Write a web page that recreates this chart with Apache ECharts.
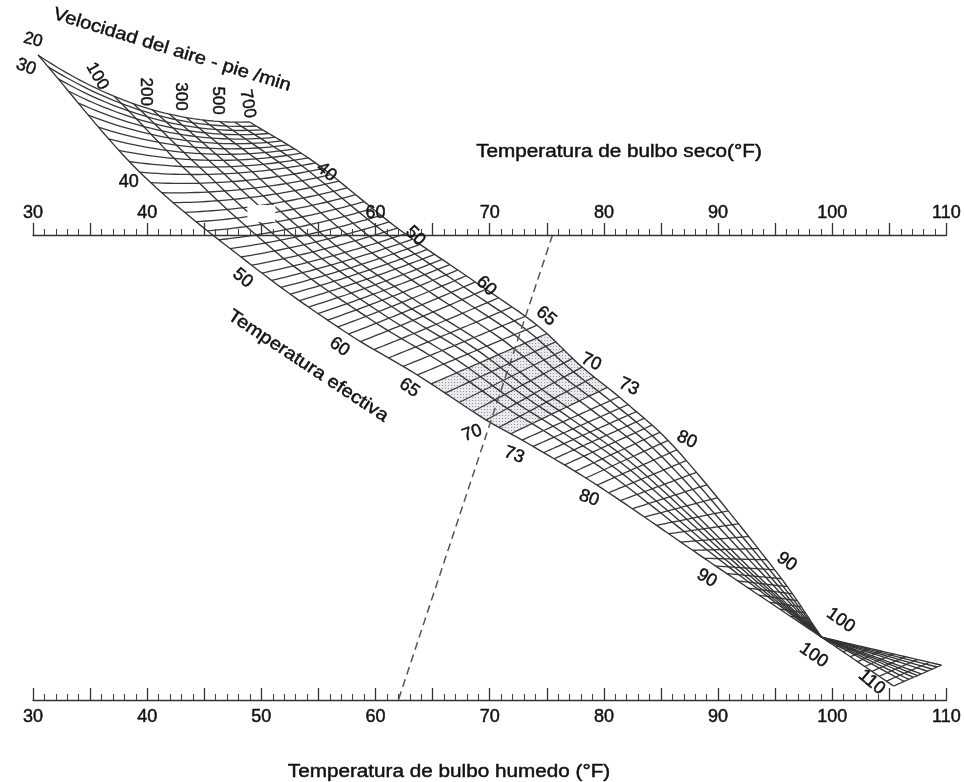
<!DOCTYPE html>
<html><head><meta charset="utf-8">
<script src="https://cdn.jsdelivr.net/npm/echarts@6/dist/echarts.min.js"></script>
<style>html,body{margin:0;padding:0;background:#fff}#c{width:964px;height:782px}</style>
</head><body><div id="c"></div>
<script>
// ================= DATA =================
// scale labels (°F)
const dryBulbTicks = [30, 40, 50, 60, 70, 80, 90, 100, 110];
const wetBulbTicks = [30, 40, 50, 60, 70, 80, 90, 100, 110];
// air velocity curves (ft/min) and the ones that carry a label
const velocities = [20, 100, 150, 200, 250, 300, 400, 500, 600, 700];
const velocityLabels = [20, 100, 200, 300, 500, 700];
// effective temperature key values (read at the band edges)
const etKeys = [30, 40, 50, 60, 65, 70, 73, 80, 90, 100, 110];
const etLabelsFast = [40, 50, 60, 65, 70, 73, 80, 90, 100];
const etLabelsStill = [30, 40, 50, 60, 65, 70, 73, 80, 90, 100, 110];
// example reading (dashed line) : dry bulb -> wet bulb
const readingDryBulb = 75.5;
const readingWetBulb = 62;
// comfort zone (stippled), effective temperature range
const comfortEt = [66, 72];

// ================= NOMOGRAM GEOMETRY =================
// Edge points of each ET key line, x in dry-bulb-scale °F, y in % of the gap
// between the wet-bulb scale (0) and the dry-bulb scale (100).
const stillX = [30.44, 39.36, 49.15, 57.63, 63.66, 69.69, 72.84, 79.40, 89.80, 99.07, 105.37];
const stillY = [138.7, 113.5, 93.5, 78.7, 69.9, 60.2, 55.9, 46.2, 28.8, 13.5, 3.0];
const fastX  = [48.97, 54.74, 61.91, 68.73, 74.15, 78.09, 81.32, 86.39, 94.96, 99.07, 109.56];
const fastY  = [124.3, 115.5, 101.5, 89.9, 80.6, 71.6, 65.2, 53.8, 28.0, 13.5, 7.5];
const etSag  = [4.0, 1.3, 0.5, 0.2, 0, 0, 0, 0, 0, 0, 0];
// position of each velocity curve across the band (0 = 20 fpm edge, 1 = 700 fpm edge)
const fracLow  = [0, .36, .45, .54, .62, .70, .78, .86, .93, 1];
const fracHigh = [0, .22, .32, .42, .50, .58, .71, .81, .91, 1];

function spline(keys, vals, e) {
  const n = keys.length;
  if (e <= keys[0]) return vals[0];
  if (e >= keys[n - 1]) return vals[n - 1];
  let k = 0; while (e > keys[k + 1]) k++;
  const tan = i => {
    if (i === 0) return (vals[1] - vals[0]) / (keys[1] - keys[0]);
    if (i === n - 1) return (vals[n - 1] - vals[n - 2]) / (keys[n - 1] - keys[n - 2]);
    return (vals[i + 1] - vals[i - 1]) / (keys[i + 1] - keys[i - 1]);
  };
  const h = keys[k + 1] - keys[k], u = (e - keys[k]) / h;
  const u2 = u * u, u3 = u2 * u;
  return (2*u3 - 3*u2 + 1) * vals[k] + (u3 - 2*u2 + u) * h * tan(k) + (-2*u3 + 3*u2) * vals[k + 1] + (u3 - u2) * h * tan(k + 1);
}
function edge(xs, ys, e) {
  if (e <= 100) {
    const kk = etKeys.slice(0, 10);
    return [spline(kk, xs.slice(0, 10), e), spline(kk, ys.slice(0, 10), e)];
  }
  const u = (e - 100) / 10;
  return [xs[9] + (xs[10] - xs[9]) * u, ys[9] + (ys[10] - ys[9]) * u];
}
function sagAt(e) {
  let k = 0; while (k < etKeys.length - 2 && e > etKeys[k + 1]) k++;
  const u = Math.min(1, Math.max(0, (e - etKeys[k]) / (etKeys[k + 1] - etKeys[k])));
  return etSag[k] + (etSag[k + 1] - etSag[k]) * u;
}
function fracAt(e, vi) {
  const w = Math.min(1, Math.max(0, (e - 30) / 20));
  return fracLow[vi] * (1 - w) + fracHigh[vi] * w;
}
function bez(e, t) {
  const A = edge(stillX, stillY, e), B = edge(fastX, fastY, e), s = sagAt(e);
  const C = [(A[0] + B[0]) / 2, (A[1] + B[1]) / 2 - 2 * s];
  const a = (1 - t) * (1 - t), b = 2 * t * (1 - t), c = t * t;
  return [a * A[0] + b * C[0] + c * B[0], a * A[1] + b * C[1] + c * B[1]];
}
function node(e, vi) { return bez(e, fracAt(e, vi)); }

// ET lines (every degree)
const etLines = [];
for (let e = 30; e <= 110; e++) {
  if (e === 100) continue;
  const c = [];
  for (let i = 0; i <= 30; i++) c.push(bez(e, i / 30));
  etLines.push({ coords: c });
}
// velocity curves
const velLines = velocities.map((v, vi) => {
  const c = [];
  for (let e = 30; e <= 110.001; e += 0.5) c.push(node(e, vi));
  return { coords: c };
});
// comfort zone polygon
const zonePoly = [];
for (let e = comfortEt[0]; e <= comfortEt[1] + 1e-6; e += 0.5) zonePoly.push(node(e, 0));
for (let i = 0; i <= 20; i++) zonePoly.push(bez(comfortEt[1], i / 20));
for (let e = comfortEt[1]; e >= comfortEt[0] - 1e-6; e -= 0.5) zonePoly.push(node(e, velocities.length - 1));
for (let i = 20; i >= 0; i--) zonePoly.push(bez(comfortEt[0], i / 20));

// ================= LABEL LAYOUT (screen px offset, rotation deg) =================
const fastLayout = {40:[11,9,-40],50:[18,8,-45],60:[11,4,-45],65:[9,-9,-40],70:[9,-5,-25],73:[10,-10,-25],80:[10,-10,-25],90:[12,-8,-35],100:[19,-17,-35]};
const stillLayout = {30:[-12,12,-20],40:[-11,10,0],50:[-9,13,-40],60:[-9,13,-35],65:[-8,13,-35],70:[-14,13,20],73:[-8,15,-20],80:[-8,13,-20],90:[-9,12,-30],100:[-8,18,-35],110:[-22,-4,-40]};
const velLayout = {20:[-5,-15,-15],100:[-17,-20,-60],200:[-7,-18,-90],300:[-5,-21,-90],500:[-2,-21,-90],700:[-2,-18,-80]};

const FONT = '"Liberation Sans", Arial, sans-serif';
const TXT = '#111';
const BOLDEN = { textBorderColor: '#111', textBorderWidth: 0.45 };
function lab(pos, text, lay, size) {
  // label offsets are applied in the rotated frame: pre-rotate so the screen offset is as given
  const phi = -lay[2] * Math.PI / 180; // clockwise screen angle
  const dx = lay[0], dy = lay[1];
  const ox = dx * Math.cos(phi) + dy * Math.sin(phi);
  const oy = -dx * Math.sin(phi) + dy * Math.cos(phi);
  return { value: pos, label: Object.assign({ show: true, formatter: String(text), offset: [ox, oy], rotate: lay[2],
    fontSize: size, color: TXT, fontFamily: FONT, position: 'inside', opacity: 1 }, BOLDEN) };
}
const labelData = [];
etLabelsFast.forEach(e => labelData.push(lab(node(e, velocities.length - 1), e, fastLayout[e], 18)));
etLabelsStill.forEach(e => labelData.push(lab(node(e, 0), e, stillLayout[e], 18)));
velocityLabels.forEach(v => labelData.push(lab(node(30, velocities.indexOf(v)), v, velLayout[v], 17)));

// stipple pattern
const pc = document.createElement('canvas'); pc.width = 3; pc.height = 3;
const g = pc.getContext('2d');
g.fillStyle = 'rgba(205,208,214,0.45)'; g.fillRect(0, 0, 3, 3);
g.fillStyle = 'rgba(120,120,128,0.75)'; g.fillRect(1, 1, 1, 1);

const chart = echarts.init(document.getElementById('c'), null, { renderer: 'canvas' });
const axisCommon = {
  type: 'value', min: 30, max: 110, interval: 5, gridIndex: 0,
  axisLine: { show: true, onZero: false, lineStyle: { color: '#333', width: 1.4 } },
  minorTick: { show: true, splitNumber: 5, length: 6, lineStyle: { color: '#444', width: 1.1 } },
  splitLine: { show: false }, minorSplitLine: { show: false }
};
function gtext(x, y, rotDeg, sx, text) {
  return { type: 'text', x: x, y: y, scaleX: sx, rotation: rotDeg * Math.PI / 180, z: 10,
    style: { text: text, font: '18px ' + FONT, fill: TXT, stroke: '#111', lineWidth: 0.45,
      textAlign: 'center', textVerticalAlign: 'middle', align: 'center', verticalAlign: 'middle' } };
}
chart.setOption({
  animation: false,
  backgroundColor: '#fff',
  grid: { left: 33, right: 16, top: 235, bottom: 82 },
  xAxis: [
    Object.assign({}, axisCommon, {
      position: 'top', z: 5,
      axisTick: { show: true, length: 12, inside: false, lineStyle: { color: '#333', width: 1.3 } },
      axisLabel: Object.assign({ margin: 13, fontSize: 18, color: TXT, fontFamily: FONT,
        formatter: v => (v % 10 ? '' : (v === 50 ? '{w| }' : (dryBulbTicks.includes(v) ? String(v) : ''))),
        rich: { w: { backgroundColor: '#fff', width: 28, height: 17, textBorderWidth: 0 } } }, BOLDEN)
    }),
    Object.assign({}, axisCommon, {
      position: 'bottom', z: 5,
      axisTick: { show: true, length: 12, inside: true, lineStyle: { color: '#333', width: 1.3 } },
      axisLabel: Object.assign({ margin: 8, fontSize: 18, color: TXT, fontFamily: FONT,
        formatter: v => (v % 10 || !wetBulbTicks.includes(v) ? '' : String(v)) }, BOLDEN)
    })
  ],
  yAxis: { type: 'value', min: 0, max: 100, show: false },
  series: [
    { type: 'custom', coordinateSystem: 'cartesian2d', xAxisIndex: 0, z: 1, silent: true, data: [0],
      renderItem: (params, api) => ({ type: 'polygon', shape: { points: zonePoly.map(p => api.coord(p)) },
        style: { fill: { image: pc, repeat: 'repeat' }, stroke: null } }) },
    { type: 'lines', coordinateSystem: 'cartesian2d', xAxisIndex: 0, polyline: true, clip: false, silent: true, z: 2,
      lineStyle: { color: '#3a3a3a', width: 1.3, opacity: 1 }, data: etLines },
    { type: 'lines', coordinateSystem: 'cartesian2d', xAxisIndex: 0, polyline: true, clip: false, silent: true, z: 2,
      lineStyle: { color: '#333', width: 1.35, opacity: 1 }, data: velLines },
    { type: 'line', xAxisIndex: 0, clip: false, symbol: 'none', silent: true, z: 3,
      lineStyle: { color: '#555', width: 1.5, type: [8, 5] },
      data: [[readingDryBulb, 100], [readingWetBulb, 0]] },
    { type: 'scatter', xAxisIndex: 0, clip: false, symbolSize: 0, silent: true, z: 6,
      itemStyle: { opacity: 1 }, data: labelData }
  ],
  graphic: [
    gtext(619, 152, 0, 1.15, 'Temperatura de bulbo seco(°F)'),
    gtext(449, 772, 0, 1.15, 'Temperatura de bulbo humedo (°F)'),
    gtext(172, 50, -17, 1.12, 'Velocidad del aire - pie /min'),
    gtext(308, 366, -33.5, 1.12, 'Temperatura efectiva')
  ]
});
</script></body></html>
